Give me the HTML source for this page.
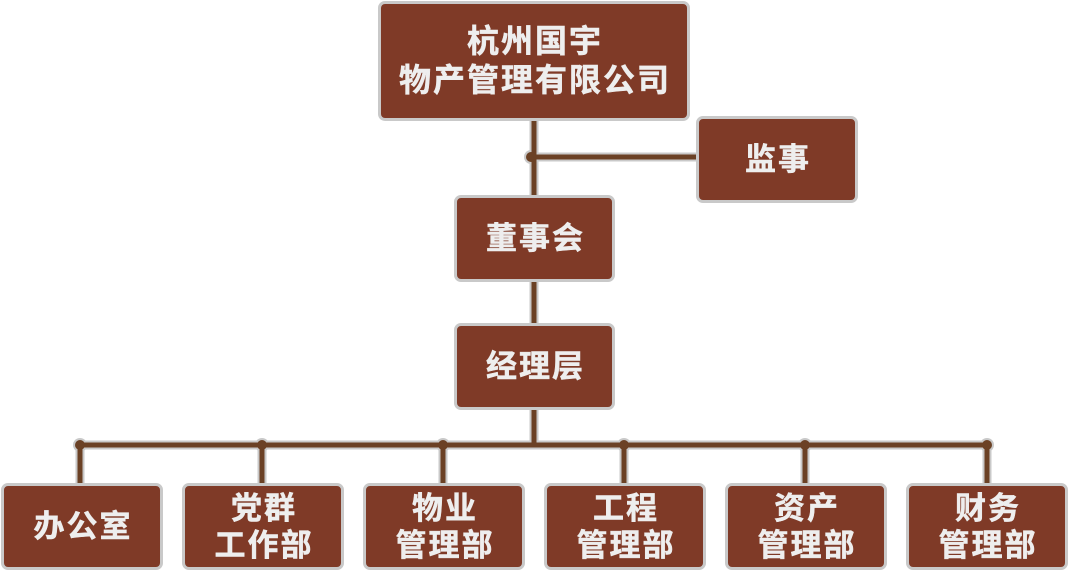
<!DOCTYPE html>
<html><head><meta charset="utf-8"><style>
body{margin:0;width:1068px;height:570px;background:#fff;position:relative;overflow:hidden;font-family:"Liberation Sans","Noto Sans CJK SC",sans-serif}
.b{position:absolute;box-sizing:border-box;background:#7f3a27;border:3px solid #c9c9c9;border-radius:7px;color:#eeeeee;font-weight:bold;font-size:31px;line-height:37px;display:flex;align-items:center;justify-content:center;text-align:center;letter-spacing:2px;padding-left:2px;-webkit-text-stroke:0.5px #eeeeee}
svg{position:absolute;left:0;top:0}
</style></head><body>
<svg width="1068" height="570">
<g stroke="#c9c9c9" stroke-width="9" fill="none" stroke-linecap="round">
<path d="M534 118V325M531 157H698M534 407V445M80 445H987M80 445V485M262 445V485M443 445V485M624 445V485M805 445V485M987 445V485"/>
</g>
<g fill="#c9c9c9"><circle cx="531" cy="157" r="7"/><circle cx="80" cy="445" r="7"/><circle cx="262" cy="445" r="7"/><circle cx="443" cy="445" r="7"/><circle cx="624" cy="445" r="7"/><circle cx="805" cy="445" r="7"/><circle cx="987" cy="445" r="7"/></g>
<g stroke="#6b4125" stroke-width="5" fill="none">
<path d="M534 118V325M531 157H698M534 407V445M80 445H987M80 445V485M262 445V485M443 445V485M624 445V485M805 445V485M987 445V485"/>
</g>
<g fill="#6b4125"><circle cx="531" cy="157" r="5"/><circle cx="80" cy="445" r="5"/><circle cx="262" cy="445" r="5"/><circle cx="443" cy="445" r="5"/><circle cx="624" cy="445" r="5"/><circle cx="805" cy="445" r="5"/><circle cx="987" cy="445" r="5"/></g>
</svg>
<div class="b" style="left:378px;top:1px;width:312px;height:120px;font-size:32px;line-height:39px">杭州国宇<br>物产管理有限公司</div>
<div class="b" style="left:696px;top:116px;width:162px;height:87px">监事</div>
<div class="b" style="left:454px;top:195px;width:161px;height:87px">董事会</div>
<div class="b" style="left:454px;top:323px;width:161px;height:87px">经理层</div>
<div class="b" style="left:1px;top:483px;width:162px;height:87px">办公室</div>
<div class="b" style="left:182px;top:483px;width:162px;height:87px">党群<br>工作部</div>
<div class="b" style="left:363px;top:483px;width:162px;height:87px">物业<br>管理部</div>
<div class="b" style="left:544px;top:483px;width:162px;height:87px">工程<br>管理部</div>
<div class="b" style="left:725px;top:483px;width:162px;height:87px">资产<br>管理部</div>
<div class="b" style="left:906px;top:483px;width:162px;height:87px">财务<br>管理部</div>
</body></html>
